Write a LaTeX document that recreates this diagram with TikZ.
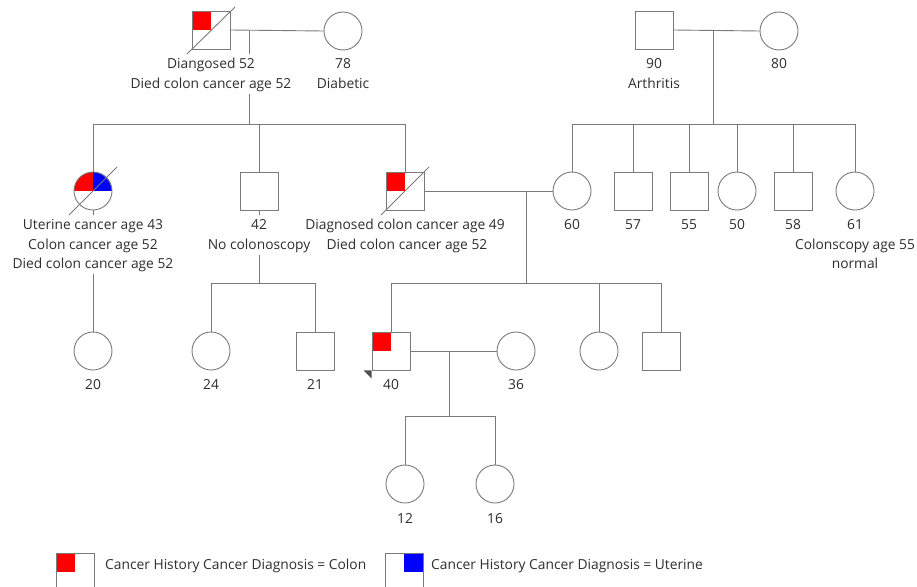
\documentclass[tikz,border=0pt]{standalone}
\usepackage{fontspec}
\setmainfont{Open Sans}
\usetikzlibrary{calc}
\definecolor{ln}{HTML}{7A7A7A}
\definecolor{tx}{HTML}{2E2E2E}
\definecolor{cred}{HTML}{FF0000}
\definecolor{cblue}{HTML}{0000FF}
\definecolor{arr}{HTML}{505050}
\begin{document}
\begin{tikzpicture}[x=1pt,y=-1pt,
  every node/.style={text=tx, font=\fontsize{13.8}{16}\selectfont},
  male/.style={draw=ln, line width=0.9pt, minimum size=38pt, inner sep=0pt, shape=rectangle},
  female/.style={draw=ln, line width=0.9pt, minimum size=38pt, inner sep=0pt, shape=circle},
  colonq/.style={path picture={\fill[cred] (path picture bounding box.north west) rectangle (path picture bounding box.center);}},
  uterq/.style={path picture={\fill[cblue] (path picture bounding box.north east) rectangle (path picture bounding box.center);}},
  bothq/.style={path picture={\fill[cred] (path picture bounding box.north west) rectangle (path picture bounding box.center);
                              \fill[cblue] (path picture bounding box.north east) rectangle (path picture bounding box.center);}},
  lbl/.style={fill=white, inner xsep=2pt, inner ysep=3.3pt, text height=10.5pt, text depth=3pt, anchor=base},
  link/.style={draw=ln, line width=0.9pt},
  dec/.style={draw=ln, line width=0.9pt}
]
\useasboundingbox (0,0) rectangle (917,586);
\clip (0,0) rectangle (917,586);

% generation I
\node[male, colonq] (gf) at (211,30) {};
\node[female] (gm) at (343,31) {};
\node[male] (rgf) at (654,30) {};
\node[female] (rgm) at (779,31) {};

% generation II
\node[female, bothq] (U) at (93,191) {};
\node[male] (s42) at (259,191) {};
\node[male, colonq] (sR) at (405,191) {};
\node[female] (c60) at (572,191) {};
\node[male] (s57) at (633,191) {};
\node[male] (s55) at (689,191) {};
\node[female] (c50) at (737,191) {};
\node[male] (s58) at (793,191) {};
\node[female] (c61) at (855,191) {};

% generation III
\node[female] (c20) at (93,351) {};
\node[female] (c24) at (211,351) {};
\node[male] (s21) at (315,351) {};
\node[male, colonq] (P) at (391,351) {};
\node[female] (c36) at (516,351) {};
\node[female] (c599) at (599,351) {};
\node[male] (s661) at (661,351) {};

% generation IV
\node[female] (c12) at (405,484) {};
\node[female] (c16) at (495,484) {};

% coordinates on relationship lines
\coordinate (m1) at (249,31);
\coordinate (s1) at (249,124);
\coordinate (m2) at (713,31);
\coordinate (s2) at (713,124);
\coordinate (m3) at (526,191);
\coordinate (s3) at (526,283);
\coordinate (s4) at (259,283);
\coordinate (m5) at (449,351);
\coordinate (s5) at (449,416);

% links
\draw[link] (gf.east) -- (gm.west);
\draw[link] (m1) -- (s1);
\draw[link] (U.north) |- (s1);
\draw[link] (sR.north) |- (s1);
\draw[link] (s42.north) -- (s42 |- s1);

\draw[link] (rgf.east) -- (rgm.west);
\draw[link] (m2) -- (s2);
\draw[link] (c60.north) |- (s2);
\draw[link] (c61.north) |- (s2);
\draw[link] (s57.north) -- (s57 |- s2);
\draw[link] (s55.north) -- (s55 |- s2);
\draw[link] (c50.north) -- (c50 |- s2);
\draw[link] (s58.north) -- (s58 |- s2);

\draw[link] (sR.east) -- (c60.west);
\draw[link] (m3) -- (s3);
\draw[link] (P.north) |- (s3);
\draw[link] (s661.north) |- (s3);
\draw[link] (c599.north) -- (c599 |- s3);

\draw[link] (U.south) -- (c20.north);
\draw[link] (s42.south) -- (s4);
\draw[link] (c24.north) |- (s4);
\draw[link] (s21.north) |- (s4);

\draw[link] (P.east) -- (c36.west);
\draw[link] (m5) -- (s5);
\draw[link] (c12.north) |- (s5);
\draw[link] (c16.north) |- (s5);

% labels
\node[lbl] (gfa) at (211,68) {Diangosed 52};
\node[lbl] (gfb) at (211,88) {Died colon cancer age 52};
\node[lbl] (gma) at (343,68) {78};
\node[lbl] (gmb) at (343,88) {Diabetic};
\node[lbl] (rgfa) at (654,68) {90};
\node[lbl] (rgfb) at (654,88) {Arthritis};
\node[lbl] (rgma) at (779,68) {80};

\node[lbl] (Ua) at (93,229) {Uterine cancer age 43};
\node[lbl] (Ub) at (93,249) {Colon cancer age 52};
\node[lbl] (Uc) at (93,268) {Died colon cancer age 52};
\node[lbl] (s42a) at (259,229) {42};
\node[lbl] (s42b) at (259,249) {No colonoscopy};
\node[lbl] (sRa) at (405,229) {Diagnosed colon cancer age 49};
\node[lbl] (sRb) at (407,249) {Died colon cancer age 52};
\node[lbl] (c60a) at (572,229) {60};
\node[lbl] (s57a) at (633,229) {57};
\node[lbl] (s55a) at (689,229) {55};
\node[lbl] (c50a) at (737,229) {50};
\node[lbl] (s58a) at (793,229) {58};
\node[lbl] (c61a) at (855,229) {61};
\node[lbl] (c61b) at (855,249) {Colonscopy age 55};
\node[lbl] (c61c) at (855,268) {normal};

\node[lbl] (c20a) at (93,389) {20};
\node[lbl] (c24a) at (211,389) {24};
\node[lbl] (s21a) at (315,389) {21};
\node[lbl] (Pa) at (391,389) {40};
\node[lbl] (c36a) at (516,389) {36};
\node[lbl] (c12a) at (405,523) {12};
\node[lbl] (c16a) at (495,523) {16};

% deceased marks
\draw[dec] ($(gf)+(-24,24)$) -- ($(gf)+(24,-23)$);
\draw[dec] ($(U)+(-24,24)$) -- ($(U)+(24,-24)$);
\draw[dec] ($(sR)+(-24,24)$) -- ($(sR)+(24,-24)$);

% proband arrow
\fill[arr] (P.south west) -- ++(-8,0) -- ++(8,8) -- cycle;

% legend
\node[male, colonq, anchor=north west] (lg1) at (56,553) {};
\node[anchor=west, inner sep=0pt] (lg1t) at (105,566) {Cancer History Cancer Diagnosis = Colon};
\node[male, uterq, anchor=north west] (lg2) at (385,553) {};
\node[anchor=west, inner sep=0pt] (lg2t) at (431,566) {Cancer History Cancer Diagnosis = Uterine};
\end{tikzpicture}
\end{document}
